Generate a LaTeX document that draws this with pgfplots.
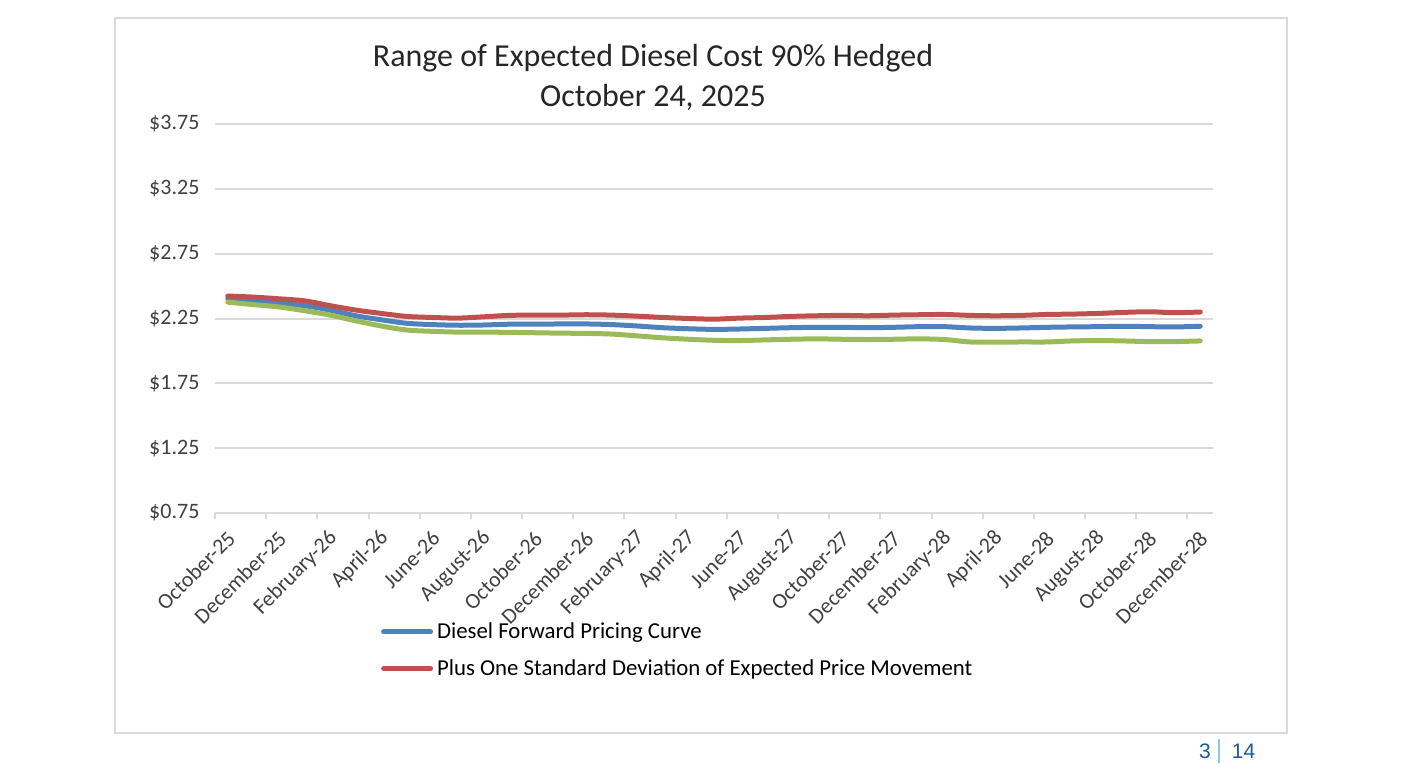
\documentclass[border=0pt]{standalone}
\usepackage{pgfplots}
\pgfplotsset{compat=1.18}
\usepackage{pgfplotstable}
\usepackage{fontspec}
\setmainfont{Carlito}
\newfontfamily\pagefont{Liberation Sans}

\definecolor{fwdblue}{HTML}{4F81BD}
\definecolor{sdred}{HTML}{C0504D}
\definecolor{lowgreen}{HTML}{9BBB59}
\definecolor{gridgray}{HTML}{D9D9D9}
\definecolor{ticktext}{HTML}{404040}
\definecolor{titletext}{HTML}{262626}
\definecolor{pagenum}{RGB}{30,90,150}
\definecolor{pagebar}{RGB}{140,200,235}

% month index, forward curve, +1 sd, -1 sd
\pgfplotstableread{
idx fwd up down
0 2.402 2.423 2.376
1 2.383 2.415 2.357
2 2.368 2.402 2.339
3 2.349 2.386 2.310
4 2.315 2.349 2.276
5 2.271 2.315 2.232
6 2.240 2.289 2.192
7 2.213 2.266 2.161
8 2.203 2.258 2.151
9 2.198 2.253 2.145
10 2.200 2.263 2.145
11 2.206 2.274 2.143
12 2.206 2.276 2.140
13 2.208 2.276 2.137
14 2.208 2.279 2.135
15 2.203 2.276 2.130
16 2.192 2.268 2.116
17 2.179 2.258 2.101
18 2.171 2.250 2.090
19 2.166 2.245 2.082
20 2.169 2.253 2.080
21 2.174 2.258 2.085
22 2.179 2.266 2.090
23 2.182 2.271 2.093
24 2.182 2.274 2.090
25 2.179 2.271 2.088
26 2.182 2.276 2.090
27 2.187 2.279 2.093
28 2.187 2.281 2.088
29 2.177 2.274 2.069
30 2.174 2.271 2.067
31 2.177 2.274 2.069
32 2.182 2.281 2.069
33 2.185 2.284 2.077
34 2.187 2.289 2.080
35 2.190 2.297 2.077
36 2.187 2.302 2.072
37 2.185 2.295 2.072
38 2.190 2.300 2.077
}\diesel

\begin{document}
\begin{tikzpicture}
\path[use as bounding box] (0,0) rectangle (700.5pt,386pt);
\draw[gridgray, line width=1pt] (57.5pt,19.5pt) rectangle (643.5pt,377pt);

\node[font=\fontsize{16}{19}\selectfont, text=titletext] at (326.5pt,357pt) {Range of Expected Diesel Cost 90\% Hedged};
\node[font=\fontsize{16}{19}\selectfont, text=titletext] at (326.5pt,337.5pt) {October 24, 2025};

\begin{axis}[
    at={(107.5pt,129.5pt)}, anchor=south west,
    scale only axis, width=499pt, height=194.5pt,
    xmin=-0.5, xmax=38.5, ymin=0.75, ymax=3.75,
    axis x line*=bottom, axis y line*=left,
    x axis line style={draw=gridgray, line width=1pt},
    y axis line style={draw=none},
    ytick={0.75,1.25,1.75,2.25,2.75,3.25,3.75},
    ymajorgrids, grid style={draw=gridgray, line width=1pt},
    major y tick style={draw=none},
    /pgf/number format/assume math mode=true,
    yticklabel={\$\pgfmathprintnumber[fixed,fixed zerofill,precision=2]{\tick}},
    yticklabel style={font=\fontsize{11}{13}\selectfont, text=ticktext, xshift=0pt},
    xtick={0,2,...,38},
    xticklabels={October-25,December-25,February-26,April-26,June-26,August-26,October-26,December-26,February-27,April-27,June-27,August-27,October-27,December-27,February-28,April-28,June-28,August-28,October-28,December-28},
    major x tick style={draw=none},
    minor xtick={-0.5,1.5,...,37.5},
    minor x tick style={draw=gridgray, line width=1pt},
    minor tick length=3pt, tick align=outside,
    xticklabel style={font=\fontsize{10.9}{12}\selectfont, text=ticktext, rotate=45, anchor=east, yshift=-6pt},
    legend style={at={(axis description cs:0.166,-0.27)}, anchor=north west, draw=none, fill=none,
        font=\fontsize{11.4}{13}\selectfont, row sep=5pt, inner sep=0pt},
    legend cell align=left,
    legend image code/.code={\draw[#1, line width=2.5pt, line cap=round] (0pt,0pt) -- (23.5pt,0pt);},
    every axis plot/.append style={line width=2.5pt, line cap=round, line join=round, smooth, no marks},
]
\addplot[fwdblue] table[x=idx, y=fwd] {\diesel};
\addlegendentry{Diesel Forward Pricing Curve}
\addplot[sdred] table[x=idx, y=up] {\diesel};
\addlegendentry{Plus One Standard Deviation of Expected Price Movement}
\addplot[lowgreen, forget plot] table[x=idx, y=down] {\diesel};
\end{axis}

\node[font=\pagefont\fontsize{10.5}{12}\selectfont, text=pagenum] at (602.5pt,10.5pt) {3};
\draw[pagebar, line width=1.2pt] (609.5pt,4.5pt) -- (609.5pt,16.5pt);
\node[font=\pagefont\fontsize{10.5}{12}\selectfont, text=pagenum] at (621.8pt,10.5pt) {14};
\end{tikzpicture}
\end{document}
